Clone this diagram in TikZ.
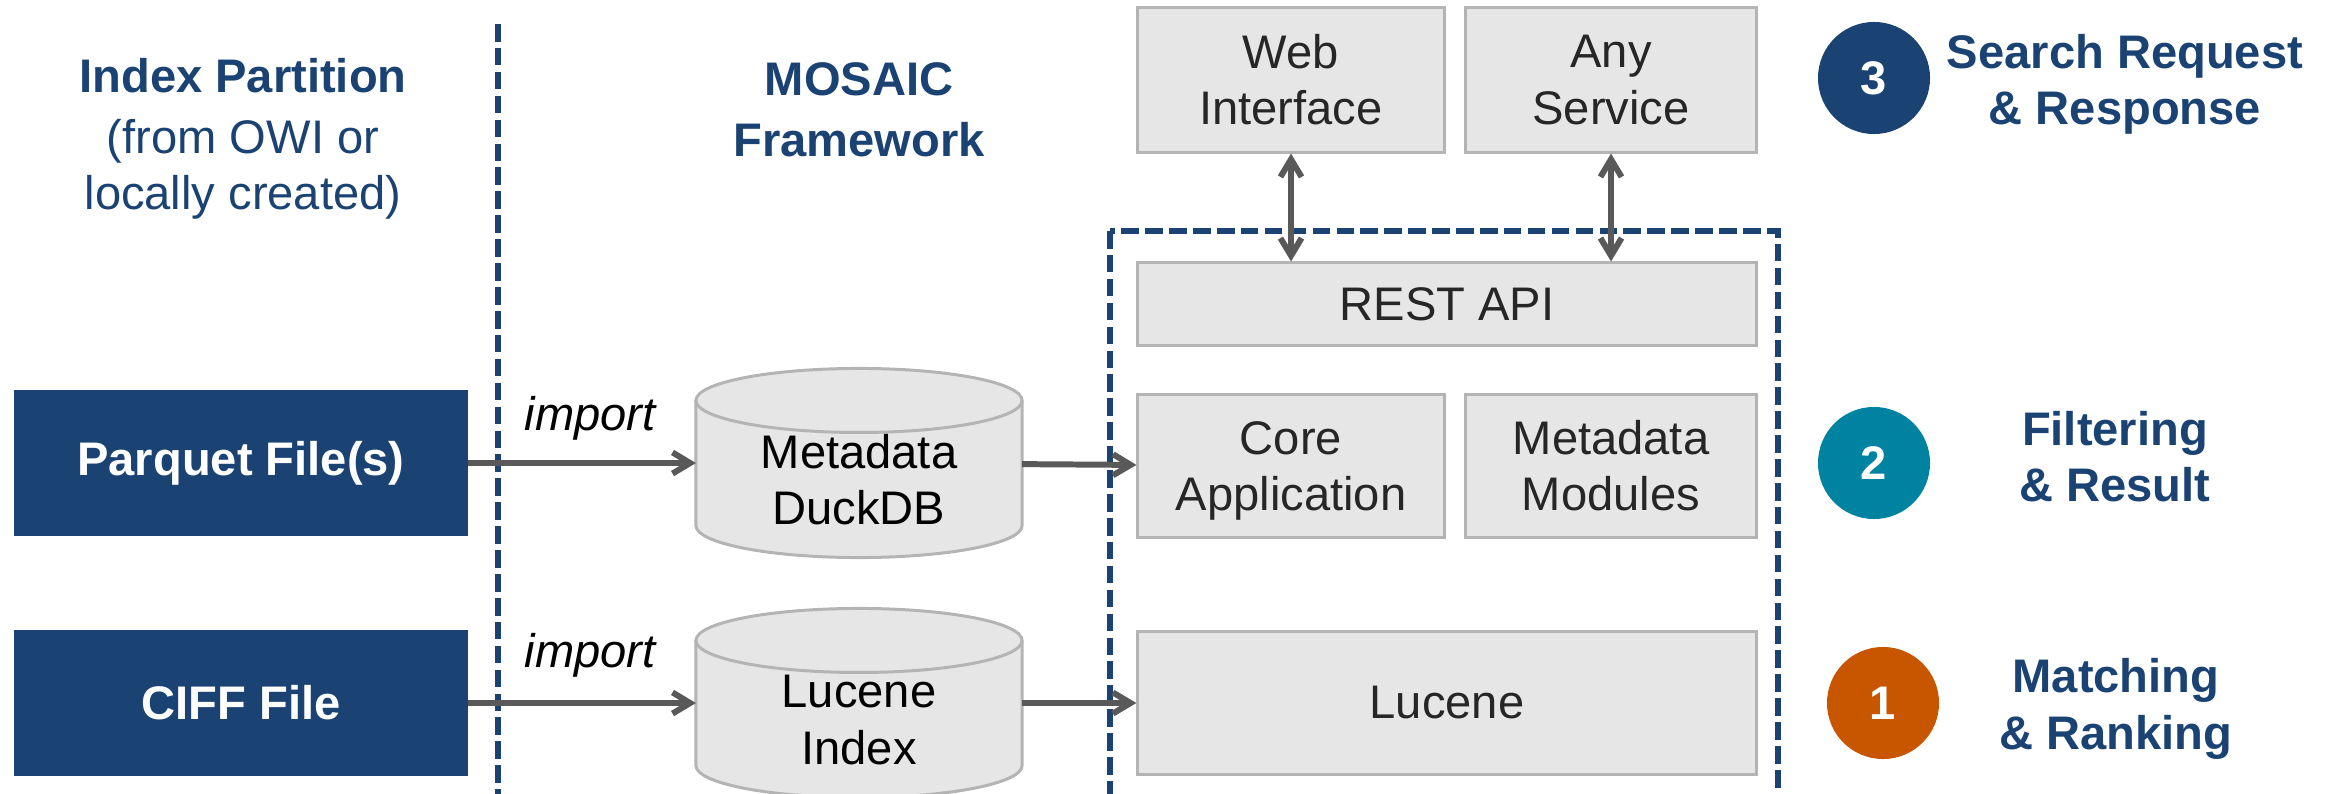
\documentclass[tikz,border=0pt]{standalone}
\usepackage{fontspec}
\setmainfont{Liberation Sans}
\usetikzlibrary{arrows.meta}
\definecolor{mosaicblue}{RGB}{26,66,115}
\definecolor{stageteal}{RGB}{0,131,160}
\definecolor{stageorange}{RGB}{200,85,0}
\definecolor{arrowgray}{RGB}{89,89,89}
\definecolor{boxfill}{RGB}{230,230,230}
\definecolor{boxline}{RGB}{180,180,180}
\newcommand{\diagfont}{\fontsize{13.4}{16}\selectfont}
\newcommand{\dbcyl}[1]{%
  \draw[dbline] ([yshift=-0.32cm]#1.north west) -- ([yshift=0.32cm]#1.south west)
    arc[start angle=180, end angle=360, x radius=1.63cm, y radius=0.32cm]
    -- ([yshift=-0.32cm]#1.north east)
    arc[start angle=0, end angle=180, x radius=1.63cm, y radius=0.32cm] -- cycle;
  \draw[dbline, fill=none] ([yshift=-0.32cm]#1.north west)
    arc[start angle=180, end angle=360, x radius=1.63cm, y radius=0.32cm];}
\tikzset{
  every node/.style={font=\diagfont, align=center},
  filebox/.style={fill=mosaicblue, text=white, font=\diagfont\bfseries,
    minimum width=4.53cm, minimum height=1.46cm},
  compbox/.style={draw=boxline, fill=boxfill, line width=0.85pt,
    text=black!85, inner sep=0pt},
  dbstore/.style={minimum width=3.26cm, minimum height=1.89cm,
    inner sep=0pt, outer sep=0pt},
  dbline/.style={draw=boxline, fill=boxfill, line width=0.85pt},
  badge/.style={circle, minimum size=1.12cm, inner sep=0pt,
    text=white, font=\diagfont\bfseries},
  stagetext/.style={text=mosaicblue, font=\diagfont\bfseries},
  flow/.style={draw=arrowgray, line width=1.7pt,
    >={Straight Barb[length=5pt,width=6pt]}},
  dashline/.style={draw=mosaicblue, line width=1.6pt,
    dash pattern=on 5pt off 1.8pt},
}
\begin{document}
\begin{tikzpicture}[x=0.01cm,y=-0.01cm]
  \useasboundingbox (0,0) rectangle (2336,794);
  \draw
    (243,139) node[text=mosaicblue] (idxtitle){\textbf{Index Partition}\\[1.4pt](from OWI or\\locally created)}
    (859,110) node[stagetext, font=\fontsize{13.4}{17.4}\selectfont\bfseries] (mosaictitle){MOSAIC\\Framework}
    (241,463) node[filebox] (parquet){Parquet File(s)}
    (241,703) node[filebox] (ciff){CIFF File}
    (859,463) node[dbstore] (metadb){}
    (859,703) node[dbstore] (lucidx){}
    (1291,80) node[compbox, minimum width=3.06cm, minimum height=1.44cm] (web){Web\\Interface}
    (1611,80) node[compbox, minimum width=2.90cm, minimum height=1.44cm] (anysvc){Any\\Service}
    (1447,304) node[compbox, minimum width=6.18cm, minimum height=0.82cm] (rest){REST API}
    (1291,466) node[compbox, minimum width=3.06cm, minimum height=1.43cm] (core){Core\\\smash{Application}}
    (1611,466) node[compbox, minimum width=2.90cm, minimum height=1.43cm] (metamod){Metadata\\Modules}
    (1447,703) node[compbox, minimum width=6.18cm, minimum height=1.43cm] (lucene){Lucene}
    (590,418) node[font=\diagfont\itshape] (imp1){import}
    (590,655) node[font=\diagfont\itshape] (imp2){import}
    (1874,78) node[badge, fill=mosaicblue] (b3){3}
    (1874,463) node[badge, fill=stageteal] (b2){2}
    (1883,703) node[badge, fill=stageorange] (b1){1}
    (2125,84) node[stagetext] (s3){Search Request\\\& Response}
    (2115,457) node[stagetext] (s2){Filtering\\\& Result}
    (2116,709) node[stagetext] (s1){Matching\\\& Ranking};
  \dbcyl{metadb}
  \dbcyl{lucidx}
  \draw
    (859,480) node (metadbtext){Metadata\\DuckDB}
    (859,720) node (lucidxtext){Lucene\\Index};
  \draw[dashline] (498,24) -- (498,794);
  \draw[dashline] (1110,231) rectangle (1778,797);
  \begin{scope}[flow]
    \draw[->] (parquet) to (metadb);
    \draw[->] (ciff) to (lucidx);
    \draw[->] (metadb) to (core);
    \draw[->] (lucidx) to (lucene);
    \draw[<->] (web.south) to (web.south |- rest.north);
    \draw[<->] (anysvc.south) to (anysvc.south |- rest.north);
  \end{scope}
\end{tikzpicture}
\end{document}
